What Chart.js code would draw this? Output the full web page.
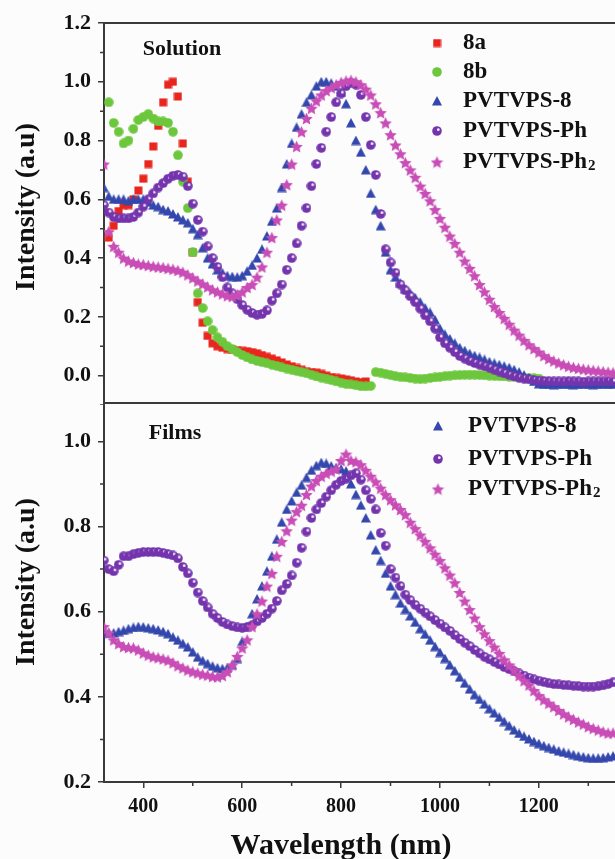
<!DOCTYPE html>
<html>
<head>
<meta charset="utf-8">
<script src="https://cdn.jsdelivr.net/npm/chart.js@4.4.0/dist/chart.umd.min.js"></script>
<style>
  body { margin: 0; background: #fcfcfd; }
  #quadro { position: relative; width: 615px; height: 859px; overflow: hidden; }
  canvas { position: absolute; left: 0; }
  #solucao { top: 0; }
  #filmes { top: 401px; }
</style>
</head>
<body>
<div id="quadro">
  <canvas id="solucao" width="615" height="405"></canvas>
  <canvas id="filmes" width="615" height="458"></canvas>
</div>
<script>
// comprimentos de onda (nm) usados em todas as series
const comprimentos = [
  320, 330, 340, 350, 360, 370, 380, 390, 400, 410,
  420, 430, 440, 450, 460, 470, 480, 490, 500, 510,
  520, 530, 540, 550, 560, 570, 580, 590, 600, 610,
  620, 630, 640, 650, 660, 670, 680, 690, 700, 710,
  720, 730, 740, 750, 760, 770, 780, 790, 800, 810,
  820, 830, 840, 850, 860, 870, 880, 890, 900, 910,
  920, 930, 940, 950, 960, 970, 980, 990, 1000, 1010,
  1020, 1030, 1040, 1050, 1060, 1070, 1080, 1090, 1100, 1110,
  1120, 1130, 1140, 1150, 1160, 1170, 1180, 1190, 1200, 1210,
  1220, 1230, 1240, 1250, 1260, 1270, 1280, 1290, 1300, 1310,
  1320, 1330, 1340, 1350
];

// painel superior (solucao)
const solucao8a = [
  null, 0.47, 0.51, 0.56, 0.58, 0.58, 0.60, 0.63, 0.67, 0.72,
  0.78, 0.85, 0.93, 0.99, 1.00, 0.95, 0.79, 0.66, 0.42, 0.25,
  0.18, 0.135, 0.11, 0.10, 0.095, 0.09, 0.088, 0.086, 0.084, 0.083,
  0.08, 0.076, 0.07, 0.064, 0.058, 0.052, 0.045, 0.038, 0.032, 0.026,
  0.02, 0.015, 0.012, 0.01, 0.006, 0.0, -0.005, -0.008, -0.01, -0.013,
  -0.016, -0.02, -0.022, -0.02
];
const solucao8b = [
  null, 0.93, 0.86, 0.83, 0.79, 0.80, 0.84, 0.87, 0.88, 0.89,
  0.875, 0.865, 0.865, 0.86, 0.83, 0.75, 0.66, 0.57, 0.42, 0.28,
  0.23, 0.185, 0.155, 0.13, 0.115, 0.10, 0.09, 0.08, 0.07, 0.062,
  0.055, 0.05, 0.046, 0.042, 0.037, 0.033, 0.028, 0.024, 0.02, 0.016,
  0.012, 0.008, 0.003, -0.003, -0.007, -0.01, -0.015, -0.02, -0.024, -0.028,
  -0.03, -0.033, -0.036, -0.037, -0.035, 0.012, 0.01, 0.006, 0.002, -0.002,
  -0.004, -0.006, -0.008, -0.01, -0.012, -0.01, -0.008, -0.006, -0.004, -0.002,
  0.0, 0.001, 0.002, 0.003, 0.003, 0.003, 0.002, 0.001, 0.0, -0.001,
  -0.002, -0.003, -0.004, -0.005, -0.006, -0.007, -0.008, -0.009, -0.01
];
const solucaoPVTVPS8 = [
  0.64, 0.61, 0.60, 0.60, 0.60, 0.595, 0.60, 0.60, 0.60, 0.59,
  0.58, 0.575, 0.565, 0.56, 0.55, 0.54, 0.53, 0.52, 0.50, 0.48,
  0.435, 0.40, 0.38, 0.36, 0.35, 0.34, 0.337, 0.335, 0.34, 0.355,
  0.375, 0.40, 0.43, 0.475, 0.525, 0.57, 0.64, 0.72, 0.79, 0.845,
  0.89, 0.93, 0.955, 0.985, 1.0, 1.0, 0.995, 0.985, 0.965, 0.925,
  0.86, 0.80, 0.76, 0.70, 0.62, 0.565, 0.51, 0.42, 0.36, 0.335,
  0.315, 0.295, 0.28, 0.265, 0.25, 0.23, 0.215, 0.19, 0.16, 0.14,
  0.125, 0.11, 0.095, 0.085, 0.075, 0.068, 0.062, 0.055, 0.047, 0.042,
  0.037, 0.032, 0.027, 0.02, 0.012, 0.002, -0.008, -0.02, -0.028, -0.03,
  -0.03, -0.031, -0.03, -0.029, -0.03, -0.031, -0.03, -0.029, -0.03, -0.031,
  -0.03, -0.029, -0.03, -0.03
];
const solucaoPh = [
  0.58, 0.555, 0.54, 0.535, 0.535, 0.535, 0.54, 0.555, 0.575, 0.60,
  0.62, 0.64, 0.655, 0.67, 0.68, 0.683, 0.677, 0.645, 0.585, 0.53,
  0.49, 0.44, 0.40, 0.37, 0.335, 0.30, 0.28, 0.26, 0.24, 0.224,
  0.213, 0.207, 0.21, 0.222, 0.255, 0.28, 0.31, 0.36, 0.40, 0.45,
  0.51, 0.57, 0.645, 0.72, 0.775, 0.83, 0.88, 0.93, 0.96, 0.985,
  0.997, 0.99, 0.955, 0.88, 0.785, 0.683, 0.55, 0.43, 0.385, 0.35,
  0.31, 0.29, 0.27, 0.25, 0.228, 0.205, 0.185, 0.16, 0.13, 0.11,
  0.095, 0.08, 0.067, 0.058, 0.05, 0.043, 0.037, 0.032, 0.027, 0.02,
  0.014, 0.008, 0.002, -0.003, -0.007, -0.01, -0.013, -0.015, -0.017, -0.018,
  -0.019, -0.02, -0.02, -0.02, -0.019, -0.02, -0.02, -0.021, -0.02, -0.02,
  -0.02, -0.02, -0.019, -0.02
];
const solucaoPh2 = [
  0.72, 0.49, 0.44, 0.42, 0.40, 0.39, 0.385, 0.38, 0.378, 0.375,
  0.372, 0.37, 0.368, 0.365, 0.362, 0.358, 0.352, 0.343, 0.333, 0.322,
  0.312, 0.302, 0.292, 0.285, 0.278, 0.272, 0.27, 0.275, 0.285, 0.30,
  0.31, 0.335, 0.37, 0.42, 0.47, 0.53, 0.58, 0.65, 0.72, 0.78,
  0.83, 0.875, 0.91, 0.935, 0.955, 0.97, 0.98, 0.99, 0.998, 1.003,
  1.005, 1.0, 0.99, 0.975, 0.955, 0.925, 0.895, 0.86, 0.82, 0.785,
  0.755, 0.725, 0.70, 0.675, 0.645, 0.62, 0.595, 0.565, 0.535, 0.505,
  0.475, 0.45, 0.42, 0.39, 0.365, 0.34, 0.31, 0.285, 0.26, 0.235,
  0.215, 0.195, 0.175, 0.155, 0.138, 0.12, 0.105, 0.092, 0.08, 0.068,
  0.058, 0.05, 0.043, 0.037, 0.032, 0.028, 0.025, 0.022, 0.02, 0.018,
  0.016, 0.014, 0.012, 0.01
];

// painel inferior (filmes)
const filmePVTVPS8 = [
  0.55, 0.55, 0.55, 0.553, 0.556, 0.56, 0.563, 0.565, 0.564, 0.562,
  0.56, 0.557, 0.553, 0.548, 0.54, 0.533, 0.525, 0.517, 0.505, 0.493,
  0.485, 0.478, 0.472, 0.468, 0.466, 0.468, 0.475, 0.49, 0.53, 0.565,
  0.595, 0.63, 0.66, 0.695, 0.73, 0.77, 0.81, 0.84, 0.86, 0.88,
  0.897, 0.915, 0.932, 0.943, 0.95, 0.948, 0.942, 0.938, 0.935, 0.93,
  0.90, 0.875, 0.85, 0.82, 0.78, 0.745, 0.72, 0.69, 0.66, 0.64,
  0.62, 0.605, 0.59, 0.575, 0.56, 0.547, 0.533, 0.518, 0.504, 0.49,
  0.475, 0.461, 0.446, 0.432, 0.418, 0.405, 0.394, 0.383, 0.372, 0.362,
  0.352, 0.342, 0.332, 0.322, 0.314, 0.307, 0.301, 0.295, 0.29, 0.285,
  0.281, 0.277, 0.273, 0.27, 0.267, 0.264, 0.261, 0.259, 0.257, 0.256,
  0.256, 0.257, 0.259, 0.261
];
const filmePh = [
  0.72, 0.70, 0.695, 0.71, 0.73, 0.73, 0.735, 0.738, 0.74, 0.74,
  0.74, 0.74, 0.738, 0.735, 0.732, 0.725, 0.705, 0.69, 0.668, 0.645,
  0.625, 0.61, 0.595, 0.585, 0.576, 0.57, 0.566, 0.563, 0.562, 0.564,
  0.568, 0.577, 0.585, 0.595, 0.607, 0.625, 0.65, 0.665, 0.685, 0.715,
  0.75, 0.788, 0.82, 0.84, 0.855, 0.87, 0.885, 0.898, 0.907, 0.912,
  0.92, 0.925, 0.91, 0.885, 0.865, 0.84, 0.785, 0.755, 0.70, 0.68,
  0.66, 0.64, 0.627, 0.616, 0.607, 0.598, 0.589, 0.58, 0.572, 0.563,
  0.555, 0.545, 0.536, 0.527, 0.519, 0.51, 0.502, 0.494, 0.488, 0.482,
  0.476, 0.47, 0.465, 0.46, 0.455, 0.45, 0.445, 0.441, 0.438, 0.435,
  0.432, 0.43, 0.429, 0.428, 0.427, 0.426, 0.425, 0.424, 0.424, 0.424,
  0.425, 0.427, 0.43, 0.434
];
const filmePh2 = [
  0.565, 0.55, 0.534, 0.525, 0.518, 0.516, 0.515, 0.51, 0.503, 0.498,
  0.494, 0.492, 0.489, 0.486, 0.48, 0.473, 0.468, 0.463, 0.459, 0.456,
  0.453, 0.451, 0.448, 0.447, 0.45, 0.459, 0.475, 0.495, 0.515, 0.534,
  0.565, 0.595, 0.625, 0.66, 0.69, 0.73, 0.765, 0.79, 0.815, 0.835,
  0.85, 0.875, 0.895, 0.908, 0.918, 0.925, 0.93, 0.935, 0.955, 0.97,
  0.955, 0.952, 0.945, 0.932, 0.918, 0.905, 0.89, 0.875, 0.863, 0.851,
  0.84, 0.828, 0.81, 0.795, 0.78, 0.765, 0.75, 0.735, 0.72, 0.703,
  0.686, 0.668, 0.645, 0.625, 0.605, 0.585, 0.565, 0.548, 0.532, 0.517,
  0.502, 0.487, 0.475, 0.463, 0.45, 0.438, 0.428, 0.415, 0.403, 0.393,
  0.385, 0.377, 0.368, 0.36, 0.353, 0.347, 0.341, 0.336, 0.33, 0.326,
  0.322, 0.318, 0.315, 0.315
];

const ticksX = [400, 600, 800, 1000, 1200];
const menoresX = [500, 700, 900, 1100, 1300];
const ticksYSolucao = [0.0, 0.2, 0.4, 0.6, 0.8, 1.0, 1.2];
const menoresYSolucao = [-0.1, 0.1, 0.3, 0.5, 0.7, 0.9, 1.1];
const ticksYFilme = [0.2, 0.4, 0.6, 0.8, 1.0];
const menoresYFilme = [0.3, 0.5, 0.7, 0.9];

const cores = {
  '8a': '#e8261e',
  '8b': '#6cc73c',
  'PVTVPS-8': '#3447ad',
  'PVTVPS-Ph': '#7434ad',
  'PVTVPS-Ph2': '#c94db6'
};

const serif = "'Liberation Serif', 'Times New Roman', serif";

// desenha os marcadores num canvas pequeno para usar como pointStyle
function marcador(forma, cor, tam) {
  const c = document.createElement('canvas');
  c.width = tam; c.height = tam;
  const g = c.getContext('2d');
  const m = tam / 2;
  g.fillStyle = cor;
  g.beginPath();
  if (forma === 'quadrado') {
    g.rect(0.5, 0.5, tam - 1, tam - 1);
  } else if (forma === 'triangulo') {
    g.moveTo(m, 0); g.lineTo(tam, tam - 0.5); g.lineTo(0, tam - 0.5); g.closePath();
  } else if (forma === 'estrela') {
    for (let k = 0; k < 10; k++) {
      const r = k % 2 ? m * 0.48 : m;
      const a = -Math.PI / 2 + k * Math.PI / 5;
      g.lineTo(m + r * Math.cos(a), m + 0.7 + r * Math.sin(a));
    }
    g.closePath();
  } else {
    g.arc(m, m, m - 0.2, 0, Math.PI * 2);
  }
  g.fill();
  if (forma === 'esfera') {
    g.fillStyle = 'rgba(255,255,255,0.9)';
    g.beginPath();
    g.arc(m + 1.3, m - 1.3, tam * 0.14, 0, Math.PI * 2);
    g.fill();
  }
  return c;
}

const pontos = {
  '8a': marcador('quadrado', cores['8a'], 9),
  '8b': marcador('circulo', cores['8b'], 10),
  'PVTVPS-8': marcador('triangulo', cores['PVTVPS-8'], 10),
  'PVTVPS-Ph': marcador('esfera', cores['PVTVPS-Ph'], 10),
  'PVTVPS-Ph2': marcador('estrela', cores['PVTVPS-Ph2'], 13)
};

function pares(serie) {
  return comprimentos.map((x, i) => ({ x: x, y: serie[i] })).filter(p => p.y != null);
}

function serie(nome, valores) {
  return {
    label: nome,
    data: pares(valores),
    showLine: false,
    pointStyle: pontos[nome],
    pointRadius: 4,
    backgroundColor: cores[nome],
    borderColor: cores[nome]
  };
}

// moldura superior, ticks menores, titulos, rotulo do painel e legenda
const moldura = {
  id: 'moldura',
  afterDraw(chart, args, o) {
    const ctx = chart.ctx;
    const a = chart.chartArea;
    const y = chart.scales.y;
    const x = chart.scales.x;
    ctx.save();
    ctx.strokeStyle = '#3a3a3a';
    ctx.lineWidth = 2;
    ctx.beginPath();
    ctx.moveTo(a.left - 1, a.top);
    ctx.lineTo(a.right, a.top);
    ctx.stroke();

    ctx.lineWidth = 1.5;
    ctx.beginPath();
    o.menoresY.forEach(v => {
      const py = y.getPixelForValue(v);
      ctx.moveTo(a.left - 4, py); ctx.lineTo(a.left, py);
    });
    if (o.menoresX) {
      o.menoresX.forEach(v => {
        const px = x.getPixelForValue(v);
        ctx.moveTo(px, a.bottom); ctx.lineTo(px, a.bottom + 4);
      });
    }
    ctx.stroke();

    ctx.fillStyle = '#111';
    ctx.textBaseline = 'middle';
    ctx.textAlign = 'center';

    // titulos dos eixos
    ctx.font = 'bold 28px ' + serif;
    ctx.save();
    ctx.translate(o.tituloY.x, o.tituloY.y);
    ctx.rotate(-Math.PI / 2);
    ctx.fillText('Intensity (a.u)', 0, 0);
    ctx.restore();
    if (o.tituloX) {
      ctx.font = 'bold 30px ' + serif;
      ctx.fillText('Wavelength (nm)', o.tituloX.x, o.tituloX.y);
    }

    ctx.font = 'bold 22px ' + serif;
    ctx.fillText(o.rotulo.texto, o.rotulo.x, o.rotulo.y);

    ctx.textAlign = 'left';
    o.legenda.itens.forEach((nome, i) => {
      const ly = o.legenda.linhas[i];
      const img = pontos[nome];
      ctx.drawImage(img, o.legenda.x - img.width / 2, ly - img.height / 2);
      ctx.font = 'bold 23px ' + serif;
      if (nome === 'PVTVPS-Ph2') {
        ctx.fillText('PVTVPS-Ph', o.legenda.xTexto, ly);
        const w = ctx.measureText('PVTVPS-Ph').width;
        ctx.font = 'bold 15px ' + serif;
        ctx.fillText('2', o.legenda.xTexto + w + 1, ly + 4);
      } else {
        ctx.fillText(nome, o.legenda.xTexto, ly);
      }
    });
    ctx.restore();
  }
};

const fonteTick = { family: serif, size: 22, weight: 'bold' };

function eixoY(min, max, valores) {
  return {
    type: 'linear',
    min: min,
    max: max,
    afterBuildTicks: s => { s.ticks = valores.map(v => ({ value: v })); },
    afterFit: s => { s.width = 104; s.paddingTop = 0; s.paddingBottom = 0; },
    border: { color: '#3a3a3a', width: 2 },
    grid: { drawOnChartArea: false, tickLength: 6, color: '#3a3a3a', lineWidth: 1.5 },
    ticks: { padding: 7, color: '#111', font: fonteTick, callback: v => Number(v).toFixed(1) }
  };
}

const xMin = 320.5;
const xMax = 1354;

new Chart(document.getElementById('solucao'), {
  type: 'scatter',
  data: {
    datasets: [
      serie('PVTVPS-Ph2', solucaoPh2),
      serie('PVTVPS-Ph', solucaoPh),
      serie('PVTVPS-8', solucaoPVTVPS8),
      serie('8b', solucao8b),
      serie('8a', solucao8a)
    ]
  },
  options: {
    responsive: false,
    animation: false,
    devicePixelRatio: 1,
    events: [],
    layout: { autoPadding: false, padding: { top: 23, right: 0, bottom: 0, left: 0 } },
    plugins: {
      legend: { display: false },
      tooltip: { enabled: false },
      moldura: {
        menoresY: menoresYSolucao,
        tituloY: { x: 27, y: 207 },
        rotulo: { texto: 'Solution', x: 182, y: 49 },
        legenda: {
          x: 437, xTexto: 463,
          linhas: [43, 72, 101, 131, 162],
          itens: ['8a', '8b', 'PVTVPS-8', 'PVTVPS-Ph', 'PVTVPS-Ph2']
        }
      }
    },
    scales: {
      x: { type: 'linear', min: xMin, max: xMax, display: false },
      y: eixoY(-0.1, 1.2, ticksYSolucao)
    }
  },
  plugins: [moldura]
});

new Chart(document.getElementById('filmes'), {
  type: 'scatter',
  data: {
    datasets: [
      serie('PVTVPS-Ph2', filmePh2),
      serie('PVTVPS-Ph', filmePh),
      serie('PVTVPS-8', filmePVTVPS8)
    ]
  },
  options: {
    responsive: false,
    animation: false,
    devicePixelRatio: 1,
    events: [],
    layout: { autoPadding: false, padding: { top: 2, right: 0, bottom: 0, left: 0 } },
    plugins: {
      legend: { display: false },
      tooltip: { enabled: false },
      moldura: {
        menoresY: menoresYFilme,
        menoresX: menoresX,
        tituloY: { x: 27, y: 181 },
        tituloX: { x: 341, y: 445 },
        rotulo: { texto: 'Films', x: 175, y: 32 },
        legenda: {
          x: 438, xTexto: 468,
          linhas: [25, 58, 88],
          itens: ['PVTVPS-8', 'PVTVPS-Ph', 'PVTVPS-Ph2']
        }
      }
    },
    scales: {
      x: {
        type: 'linear',
        min: xMin,
        max: xMax,
        afterBuildTicks: s => { s.ticks = ticksX.map(v => ({ value: v })); },
        afterFit: s => { s.height = 77; s.paddingLeft = 0; s.paddingRight = 0; },
        border: { color: '#3a3a3a', width: 2 },
        grid: { drawOnChartArea: false, tickLength: 6, color: '#3a3a3a', lineWidth: 1.5 },
        ticks: { padding: 7, color: '#111', font: { family: serif, size: 20, weight: 'bold' }, callback: v => String(v) }
      },
      y: eixoY(0.2, 1.09, ticksYFilme)
    }
  },
  plugins: [moldura]
});
</script>
</body>
</html>
